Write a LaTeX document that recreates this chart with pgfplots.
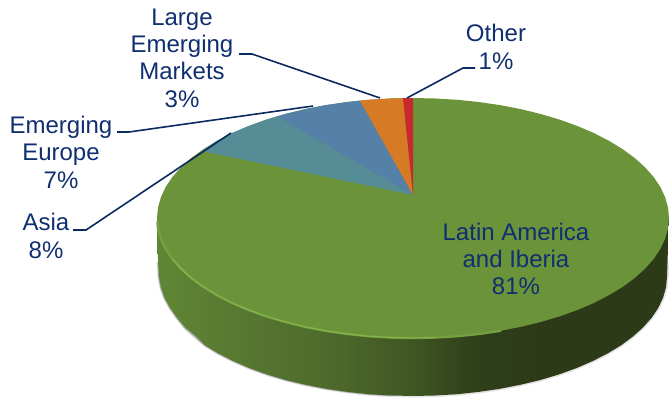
\documentclass[border=0pt]{standalone}
\usepackage{pgfplots}
\pgfplotsset{compat=1.18}
\usepackage{fontspec}
\setmainfont{Liberation Sans}

\definecolor{labelblue}{HTML}{0F2F70}
\definecolor{leader}{HTML}{0B2A60}
\definecolor{faceGreen}{HTML}{6B933A}
\definecolor{faceTeal}{HTML}{568C96}
\definecolor{faceBlue}{HTML}{5580A8}
\definecolor{faceOrange}{HTML}{D67A25}
\definecolor{faceRed}{HTML}{C9292E}
\definecolor{bevelGreen}{HTML}{84B24C}
\definecolor{wallA}{HTML}{5F8635}
\definecolor{wallB}{HTML}{557530}
\definecolor{wallC}{HTML}{4D6A2A}
\definecolor{wallD}{HTML}{3F5622}
\definecolor{wallE}{HTML}{2F3F1A}
\definecolor{wallF}{HTML}{2C3A18}

% side wall of the disc, lit from the left
\pgfdeclarehorizontalshading{sidewall}{100bp}{%
  color(0bp)=(wallA);
  color(25bp)=(wallA);
  color(35bp)=(wallB);
  color(42bp)=(wallC);
  color(50bp)=(wallD);
  color(56bp)=(wallE);
  color(62bp)=(wallF);
  color(100bp)=(wallF)}

\begin{document}
\begin{tikzpicture}
\useasboundingbox (0,0) rectangle (669pt,398pt);
\begin{axis}[
  scale only axis, width=669pt, height=398pt,
  xmin=0, xmax=669, ymin=0, ymax=398, y dir=reverse,
  hide axis, clip=false,
  nodes={font=\fontsize{24}{27.4}\selectfont, text=labelblue, align=center, inner sep=0pt},
]
% soft edge under the disc
\addplot[draw=gray!30, line width=3.2pt, opacity=.7] coordinates {
(158,262)(159,278)(161,288)(164.5,298)(170,308)(177,318)(185,328)(196,337.5)(204.9,345.3)(218.4,353.5)
(233.4,361.1)(249.7,368.2)(267.3,374.5)(286,380.1)(305.7,384.8)(326.1,388.8)(347.3,391.9)(368.9,394.2)(390.9,395.5)(413,396)
(435.1,395.5)(457.1,394.2)(478.7,391.9)(499.9,388.8)(520.3,384.8)(540,380.1)(558.7,374.5)(576.3,368.2)(592.6,361.1)
(607.6,353.5)(621.1,345.3)(633,336.5)(643.2,327.3)(651.7,317.7)(658.3,307.8)(663.1,297.7)(666,287.4)(667,277)(668,262)};
\addplot[draw=gray!75, line width=1.4pt, opacity=.8] coordinates {
(158,262)(159,278)(161,288)(164.5,298)(170,308)(177,318)(185,328)(196,337.5)(204.9,345.3)(218.4,353.5)
(233.4,361.1)(249.7,368.2)(267.3,374.5)(286,380.1)(305.7,384.8)(326.1,388.8)(347.3,391.9)(368.9,394.2)(390.9,395.5)};

% side wall
\addplot[shade, shading=sidewall, draw=none] coordinates {
(157,218)(157.5,250)
(159,277)(161,287.4)(164.5,297.7)(170,307.8)(177,317.7)(185,327.3)(196,336.5)(204.9,345.3)(218.4,353.5)
(233.4,361.1)(249.7,368.2)(267.3,374.5)(286,380.1)(305.7,384.8)(326.1,388.8)(347.3,391.9)(368.9,394.2)(390.9,395.5)(413,396)
(435.1,395.5)(457.1,394.2)(478.7,391.9)(499.9,388.8)(520.3,384.8)(540,380.1)(558.7,374.5)(576.3,368.2)(592.6,361.1)
(607.6,353.5)(621.1,345.3)(633,336.5)(643.2,327.3)(651.7,317.7)(658.3,307.8)(663.1,297.7)(666,287.4)(667,277)
(669,218)(413,218)} --cycle;

% Latin America and Iberia: the whole top face, the other shares sit over it
\addplot[fill=faceGreen, draw=none] coordinates {
(669,218)(668,207.5)(665.1,197.2)(660.3,186.9)(653.6,177)(645,167.3)(634.7,158)(622.7,149.2)(609.1,140.9)(594,133.1)
(577.6,126.1)(559.8,119.7)(541,114.1)(521.2,109.2)(500.6,105.2)(479.3,102.1)(457.5,99.8)(435.3,98.5)(413,98)
(390.7,98.5)(368.5,99.8)(346.7,102.1)(325.4,105.2)(304.8,109.2)(285,114.1)(266.2,119.7)(248.4,126.1)(232,133.1)
(216.9,140.9)(203.3,149.2)(191.3,158)(181,167.3)(172.4,177)(165.7,186.9)(160.9,197.2)(158,207.5)(157,218)
(158,228.5)(160.9,238.8)(165.7,249.1)(172.4,259)(181,268.7)(191.3,278)(203.3,286.8)(216.9,295.1)(232,302.9)
(248.4,309.9)(266.2,316.3)(285,321.9)(304.8,326.8)(325.4,330.8)(346.7,333.9)(368.5,336.2)(390.7,337.5)(413,338)
(435.3,337.5)(457.5,336.2)(479.3,333.9)(500.6,330.8)(521.2,326.8)(541,321.9)(559.8,316.3)(577.6,309.9)(594,302.9)
(609.1,295.1)(622.7,286.8)(634.7,278)(645,268.7)(653.6,259)(660.3,249.1)(665.1,238.8)(668,228.5)} --cycle;

% lit bevel along the front of the top face, fading at both ends
\addplot[draw=faceGreen!60!bevelGreen, line width=2.4pt, line cap=round] coordinates {
(157.5,222)(158,228.5)(160.9,238.8)(165.7,249.1)(172.4,259)(181,268.7)(191.3,278)(203.3,286.8)(216.9,295.1)(232,302.9)
(248.4,309.9)(266.2,316.3)(285,321.9)(304.8,326.8)(325.4,330.8)(346.7,333.9)(368.5,336.2)(390.7,337.5)(413,338)
(435.3,337.5)(457.5,336.2)(479.3,333.9)(500.6,330.8)};
\addplot[draw=bevelGreen, line width=1.1pt, line cap=round] coordinates {
(172.4,259)(181,268.7)(191.3,278)(203.3,286.8)(216.9,295.1)(232,302.9)
(248.4,309.9)(266.2,316.3)(285,321.9)(304.8,326.8)(325.4,330.8)(346.7,333.9)(368.5,336.2)(390.7,337.5)(413,338)
(435.3,337.5)};

% Asia
\addplot[fill=faceTeal, draw=none] coordinates {
(413,195)(277,116.3)(266.2,119.7)(248.4,126.1)(232,133.1)(216.9,140.9)(202,151)} --cycle;
% Emerging Europe
\addplot[fill=faceBlue, draw=none] coordinates {
(413,195)(360,100.6)(346.7,102.1)(325.4,105.2)(304.8,109.2)(285,114.1)(277,116.3)} --cycle;
% Large Emerging Markets
\addplot[fill=faceOrange, draw=none] coordinates {
(413,195)(403,98.1)(390.7,98.5)(380,99.1)(368.5,99.8)(360,100.6)} --cycle;
% Other
\addplot[fill=faceRed, draw=none] coordinates {
(413,195)(413,98)(403,98.1)} --cycle;

% leader lines
\addplot[draw=leader, line width=1.6pt] coordinates {(73,230)(86,230)(231,133)};
\addplot[draw=leader, line width=1.6pt] coordinates {(117,132)(129,132)(313,106)};
\addplot[draw=leader, line width=1.6pt] coordinates {(239,54)(252,54)(380,98)};
\addplot[draw=leader, line width=1.6pt] coordinates {(475,68)(463,68)(407,98)};

% labels
\node at (axis cs:182,58) {Large\\Emerging\\Markets\\3\%};
\node at (axis cs:61,152) {Emerging\\Europe\\7\%};
\node at (axis cs:46,236) {Asia\\8\%};
\node at (axis cs:496,47) {Other\\1\%};
\node at (axis cs:516,259) {Latin America\\and Iberia\\81\%};
\end{axis}
\end{tikzpicture}
\end{document}
